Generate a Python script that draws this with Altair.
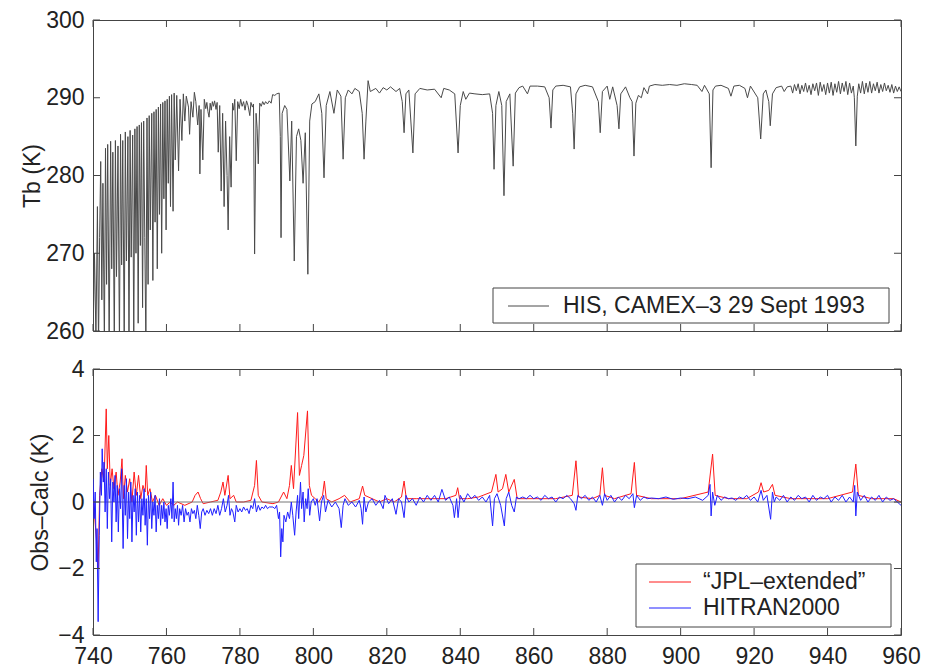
import altair as alt
import pandas as pd

FONT = "Liberation Sans, Arial, Helvetica, sans-serif"
TXT = "#222222"
FRAME = "#444444"

# ---------------- data ----------------
x_ticks = [740, 760, 780, 800, 820, 840, 860, 880, 900, 920, 940, 960]
top_y_ticks = [260, 270, 280, 290, 300]
bottom_y_ticks = [-4, -2, 0, 2, 4]
top_legend = ["HIS, CAMEX\u20133 29 Sept 1993"]
bottom_legend = ["\u201cJPL\u2013extended\u201d", "HITRAN2000"]

# HIS brightness temperature spectrum: (wavenumber cm-1, Tb K)
his_points = [
    (740.0, 259), (740.4, 270), (740.8, 259), (741.2, 276), (741.5, 258), (741.8, 272),
    (742.1, 281.8), (742.4, 264), (742.7, 279), (743.1, 258), (743.4, 283.5), (743.7, 266),
    (744.0, 284), (744.4, 258), (744.8, 284.4), (745.1, 268), (745.4, 283), (745.8, 258),
    (746.1, 284.5), (746.4, 267), (746.8, 283.8), (747.2, 258), (747.5, 285.3), (747.8, 268.5),
    (748.1, 284.5), (748.5, 258), (748.8, 285.6), (749.1, 269), (749.5, 285), (749.8, 258),
    (750.1, 285.8), (750.4, 269.5), (750.8, 285.2), (751.1, 258), (751.4, 286), (751.7, 270),
    (752.0, 286.3), (752.3, 261), (752.6, 286.5), (752.9, 271), (753.2, 286.8), (753.5, 263),
    (753.8, 287), (754.1, 272), (754.4, 258), (754.7, 287.4), (755.0, 266), (755.3, 287.7),
    (755.6, 273), (756.0, 288), (756.3, 266.5), (756.6, 288.2), (756.9, 274), (757.2, 288.5),
    (757.5, 268), (757.8, 288.8), (758.1, 275), (758.4, 289.2), (758.7, 270), (759.0, 289.4),
    (759.3, 277), (759.6, 289.6), (759.9, 273), (760.2, 289.8), (760.5, 279), (760.8, 290.2),
    (761.1, 276), (761.4, 290.4), (761.8, 275.4), (762.1, 290.6), (762.4, 282), (762.8, 290.3),
    (763.3, 280.6), (763.7, 289.8), (764.2, 284.5), (764.6, 290.5),
    (765.0, 287), (765.4, 290.2), (766.0, 288.8), (766.3, 285.3), (766.7, 289.5), (767.2, 287.5),
    (767.6, 290.7), (768.0, 289.5), (768.5, 286.5), (768.9, 289), (769.1, 280.2), (769.4, 288.5),
    (769.9, 282), (770.3, 289.8), (770.7, 288.6), (771.0, 289.4), (771.3, 288.2), (771.6, 287.5),
    (771.9, 289.3), (772.2, 288.4), (772.5, 289.5), (772.8, 288.9), (773.1, 289.6), (773.5, 288.5),
    (773.8, 289.4), (774.1, 283), (774.5, 289), (774.9, 278), (775.3, 288), (775.7, 276),
    (776.1, 287), (776.5, 280), (776.8, 273), (777.2, 285), (777.6, 278.5), (778.0, 289.3),
    (778.3, 288.4), (778.6, 289.8), (779.0, 281.9), (779.4, 289.5), (779.8, 288.6), (780.2, 289.8),
    (780.6, 288.9), (781.0, 289.5), (781.4, 288.4), (781.8, 289.6), (782.2, 289.0), (782.7, 287.7),
    (783.0, 289.4), (783.4, 288.8), (783.7, 289.2), (784.0, 269.9), (784.4, 288), (784.7, 286),
    (785.0, 281.5), (785.4, 289.3), (785.8, 288.9), (786.2, 289.5), (786.6, 289.1), (787.0, 289.5),
    (787.5, 289.2), (788.0, 289.6), (788.5, 289.3), (788.9, 290.4), (789.5, 290.3), (790.0, 290.5),
    (790.7, 290.6),
    (791.0, 285), (791.2, 272), (791.5, 288), (792.2, 289), (792.8, 288.5), (793.6, 279.3),
    (794.1, 287), (794.8, 269), (795.4, 285), (796.0, 286), (796.6, 284.5), (797.2, 279),
    (797.8, 285.5), (798.5, 267.3), (799.0, 287), (799.6, 289.2), (800.5, 289.5),
    (801.5, 290.5), (802.3, 288), (802.9, 279.7), (803.5, 289), (804.5, 290.8), (805.6, 288),
    (806.5, 291), (807.5, 290.2), (808.1, 282.1), (808.7, 290), (809.5, 291), (810.5, 290.5),
    (811.3, 291.2), (812.5, 290.8), (813.3, 288), (813.8, 282.1), (814.3, 287), (814.9, 292.2),
    (815.5, 290.8), (817.0, 291.2), (818.0, 290.6), (819.0, 291.3), (820.0, 291), (821.0, 291.4),
    (822.5, 290.8), (823.5, 291.2), (824.2, 289.5), (824.7, 285.5), (825.2, 290.5), (826.0, 291),
    (827.1, 282.9), (827.7, 290.5), (829.0, 291.2), (831.0, 291), (833.0, 291.1), (834.8, 290),
    (835.5, 291.2), (837.0, 291), (838.5, 290.5), (839.4, 282.9), (840.0, 289), (840.8, 290.8),
    (841.5, 289.8), (842.5, 290.6), (844.0, 290.5), (846.0, 290.4), (848.0, 290.5), (848.8, 288),
    (849.2, 280.8), (849.7, 289), (850.5, 290.8), (851.3, 289), (851.9, 277.4), (852.5, 289.5),
    (853.5, 290.5), (854.4, 281.2), (855.0, 290.6), (856.0, 291.3), (857.0, 291.5), (858.3, 290.5),
    (859.0, 291.5), (861.0, 291.5), (863.0, 291.4), (864.2, 290), (864.7, 286.1), (865.2, 291),
    (866.0, 291.5), (868.0, 291.6), (870.0, 291.4), (870.6, 288), (871.0, 283.4), (871.5, 290.5),
    (872.5, 291.4), (874.0, 291.6), (876.0, 291.4), (877.6, 289.5), (878.1, 285.5), (878.7, 290.8),
    (880.0, 291.5), (880.7, 289.8), (881.5, 291.4), (882.7, 289), (883.2, 286), (883.7, 290.5),
    (885.0, 291.4), (886.2, 290), (886.8, 289.5), (887.3, 282.5), (887.8, 289.3), (888.5, 290.3),
    (889.3, 290), (890.0, 291.3), (891.0, 290.5), (891.5, 291.5), (893.0, 291.7), (895.0, 291.6),
    (897.0, 291.7), (899.0, 291.6), (901.0, 291.8), (903.0, 291.7), (904.5, 291.6), (905.8, 290.8),
    (906.5, 291.6), (907.8, 290.5), (908.3, 281), (908.8, 291), (909.5, 291.5), (911.0, 291.6),
    (913.0, 291.2), (913.7, 290.2), (914.5, 291.5), (916.0, 291.6), (917.5, 291.2), (918.2, 290),
    (919.0, 291.5), (921.0, 290), (921.8, 284.7), (922.5, 290.5), (923.2, 291), (924.0, 289.5),
    (924.4, 286.4), (925.0, 290.5), (926.0, 291.3), (927.5, 291.5), (928.2, 290.8), (929.0, 291.4),
    (930.0, 291.5), (930.5, 290.6), (931.0, 291.7), (931.5, 290.9), (932.0, 291.8), (932.5, 290.5),
    (933.0, 291.6), (933.5, 290.8), (934.0, 291.9), (934.5, 290.7), (935.0, 291.6), (935.5, 290.4),
    (936.0, 291.8), (936.5, 290.9), (937.0, 291.9), (937.5, 290.3), (938.0, 292.0), (938.5, 290.8),
    (939.0, 291.7), (939.5, 290.4), (940.0, 291.9), (940.5, 290.6), (941.0, 292.0), (941.5, 290.3),
    (942.0, 291.8), (942.5, 290.7), (943.0, 292.1), (943.5, 290.5), (944.0, 291.9), (944.5, 290.8),
    (945.0, 292.1), (945.5, 290.4), (946.0, 291.9), (946.5, 290.6), (947.0, 291.5), (947.3, 290.0),
    (947.7, 283.8), (948.1, 290.2), (948.5, 291.8), (949.0, 290.6), (949.5, 292.1), (950.0, 290.5),
    (950.5, 291.9), (951.0, 290.7), (951.5, 292.1), (952.0, 290.6), (952.5, 291.8), (953.0, 290.9),
    (953.5, 292.0), (954.0, 290.6), (954.5, 291.7), (955.0, 290.8), (955.5, 291.9), (956.0, 290.9),
    (956.5, 291.6), (957.0, 290.7), (957.5, 291.7), (958.0, 290.6), (958.5, 291.5), (959.0, 290.8),
    (959.5, 291.4), (960.0, 290.8),
]

# Obs-Calc residuals, "JPL-extended" (red)
jpl_points = [
    (740.0, 0.3), (740.5, -0.5), (741.0, -1.2), (741.4, -2.0), (741.8, 0.2), (742.4, 1.0),
    (743.0, 0.6), (743.6, 2.8), (743.9, 1.0), (744.3, 2.0), (744.7, 0.5), (745.2, 1.0),
    (745.7, 0.4), (746.3, 0.9), (746.8, 0.2), (747.4, 0.6), (747.9, 1.3), (748.3, 0.1),
    (748.8, 0.8), (749.4, 0.3), (750.0, 0.7), (750.6, 0.0), (751.2, 0.9), (751.8, 0.2),
    (752.4, 0.8), (753.0, 0.1), (753.6, 0.5), (754.2, 0.3), (754.5, 1.1), (754.9, 0.2),
    (755.5, 0.4), (756.2, 0.0), (757.0, 0.2), (758.0, -0.1), (759.0, 0.1), (760.0, -0.1),
    (761.0, 0.0), (762.0, -0.1), (763.0, 0.0), (765.0, -0.1), (767.0, 0.0), (767.8, 0.2),
    (768.6, 0.3), (769.3, 0.1), (770.0, -0.05), (772.0, 0.0), (774.0, 0.05), (774.8, 0.3),
    (775.4, 0.6), (775.9, 0.2), (776.8, 0.8), (777.3, 0.1), (778.3, 0.2), (779.0, 0.0),
    (781.0, 0.0), (783.0, 0.05), (784.0, 0.5), (784.5, 1.25), (785.0, 0.2), (786.0, 0.0),
    (789.0, -0.05), (790.5, 0.0), (791.9, 0.3), (792.8, 0.1), (793.5, 0.5), (794.0, 1.1),
    (794.6, 0.4), (795.7, 2.69), (796.2, 0.8), (796.8, 1.1), (797.4, 1.4), (798.4, 2.74),
    (798.9, 0.5), (799.5, 0.2), (800.5, 0.1), (801.5, 0.0), (802.5, 0.2), (803.0, 0.63),
    (803.5, 0.1), (805.0, 0.0), (807.0, 0.1), (808.5, 0.2), (810.0, 0.0), (812.5, 0.1),
    (813.4, 0.48), (814.0, 0.2), (816.0, 0.1), (818.0, 0.0), (820.0, 0.1), (822.0, 0.0),
    (824.0, 0.15), (824.7, 0.63), (825.3, 0.1), (828.0, 0.1), (832.0, 0.1), (836.0, 0.1),
    (838.8, 0.2), (839.3, 0.43), (839.8, 0.1), (842.0, 0.1), (845.0, 0.15), (848.5, 0.3),
    (849.7, 0.83), (850.3, 0.3), (851.5, 0.4), (852.4, 0.83), (853.2, 0.3), (854.7, 0.68),
    (855.5, 0.1), (858.0, 0.1), (862.0, 0.1), (866.0, 0.1), (870.5, 0.2), (871.5, 1.24),
    (872.2, 0.15), (876.0, 0.1), (878.0, 0.2), (878.7, 1.03), (879.3, 0.2), (882.0, 0.1),
    (886.5, 0.25), (887.4, 1.19), (888.0, 0.2), (892.0, 0.1), (900.0, 0.1), (907.5, 0.3),
    (908.7, 1.44), (909.4, 0.2), (913.0, 0.1), (918.0, 0.1), (921.2, 0.3), (921.9, 0.58),
    (922.6, 0.3), (924.0, 0.35), (925.0, 0.53), (925.7, 0.2), (930.0, 0.1), (940.0, 0.1),
    (946.8, 0.3), (947.7, 1.14), (948.4, 0.2), (952.0, 0.1), (958.0, 0.1), (960.0, 0.0),
]

# Obs-Calc residuals, HITRAN2000 (blue)
hitran_points = [
    (740.0, 0.7), (740.3, -0.5), (740.6, 0.3), (740.9, -1.8), (741.1, -0.8), (741.4, -3.6),
    (741.7, -1.0), (742.0, 0.9), (742.3, 0.2), (742.5, 1.6), (742.8, 0.6), (743.0, 1.2),
    (743.3, -0.3), (743.6, 1.0), (743.9, -0.8), (744.2, 0.9), (744.5, 0.1), (744.8, 0.7),
    (745.1, -1.2), (745.4, 0.6), (745.7, 0.0), (746.0, 0.8), (746.3, -0.6), (746.6, 0.5),
    (746.9, -0.9), (747.2, 0.4), (747.5, -0.2), (747.8, 1.0), (748.2, -1.4), (748.5, 0.5),
    (748.8, -0.4), (749.1, 0.7), (749.4, -1.1), (749.7, 0.3), (750.0, -0.5), (750.3, 0.6),
    (750.6, -1.2), (750.9, 0.2), (751.2, -0.3), (751.5, 0.4), (751.8, -1.0), (752.1, 0.3),
    (752.4, -0.6), (752.7, 0.2), (753.0, -0.9), (753.3, 0.1), (753.6, -0.4), (753.9, 0.4),
    (754.2, -0.7), (754.5, 0.1), (754.8, -1.3), (755.1, 0.2), (755.4, -0.5), (755.7, 0.3),
    (756.0, -0.8), (756.3, 0.0), (756.6, -0.4), (756.9, 0.2), (757.2, -0.9), (757.5, -0.1),
    (757.8, -0.5), (758.1, 0.1), (758.4, -0.7), (758.7, -0.1), (759.0, -0.5), (759.3, 0.0),
    (759.6, -0.6), (759.9, -0.2), (760.2, -0.8), (760.5, -0.1), (760.8, -0.4), (761.2, 0.1),
    (761.5, -0.5), (761.8, 0.6), (762.1, -0.6), (762.4, -0.2), (762.7, -0.5), (763.0, -0.1),
    (763.3, -0.7), (763.6, -0.2), (764.0, -0.4), (764.4, -0.1), (764.8, -0.6), (765.2, -0.2),
    (765.6, -0.4), (766.0, -0.3), (766.4, -0.6), (766.8, -0.2), (767.2, -0.35), (767.6, -0.25),
    (768.0, -0.5), (768.4, -0.1), (768.8, -0.4), (769.2, -0.8), (769.6, -0.3), (770.0, -0.2),
    (770.5, -0.4), (771.0, -0.25), (771.5, -0.35), (772.0, -0.2), (772.5, -0.4), (773.0, -0.2),
    (773.5, -0.35), (774.0, -0.1), (774.5, -0.4), (775.0, -0.2), (775.5, 0.1), (776.0, -0.3),
    (776.5, -0.1), (776.9, 0.2), (777.3, -0.4), (777.7, -0.2), (778.1, -0.3), (778.6, -0.6),
    (779.0, -0.1), (779.5, -0.3), (780.0, -0.2), (780.5, -0.3), (781.0, -0.15), (781.5, -0.25),
    (782.0, -0.2), (782.5, -0.35), (783.0, -0.1), (783.5, -0.2), (784.0, 0.1), (784.5, -0.3),
    (785.0, -0.1), (785.5, -0.25), (786.0, -0.15), (786.5, -0.2), (787.0, -0.1), (787.5, -0.2),
    (788.0, -0.15), (789.0, -0.15), (789.5, -0.2), (790.0, -0.1), (790.5, -0.5), (790.8, -0.3),
    (791.1, -1.65), (791.4, -0.8), (791.7, -1.2), (792.0, -0.4), (792.5, -0.6), (793.0, -0.3),
    (793.5, -0.5), (794.0, 0.0), (794.4, -0.4), (794.9, -1.0), (795.3, -0.3), (795.7, 0.2),
    (796.0, -0.5), (796.5, 0.6), (796.8, -0.2), (797.2, 0.3), (797.5, -0.6), (797.9, 0.1),
    (798.3, -0.2), (798.6, 0.4), (799.0, -0.4), (799.4, 0.0), (800.0, 0.1), (800.5, -0.1),
    (801.0, 0.1), (801.7, -0.57), (802.2, 0.0), (802.8, 0.2), (803.3, -0.3), (804.0, 0.05),
    (805.0, -0.15), (806.0, 0.0), (807.0, -0.2), (807.6, -0.77), (808.1, -0.1), (808.6, 0.1),
    (809.5, -0.1), (810.5, 0.0), (811.5, -0.15), (812.5, 0.05), (813.0, -0.2), (813.4, -0.67),
    (813.8, 0.15), (814.3, -0.3), (815.0, 0.0), (816.0, 0.1), (817.0, -0.1), (818.0, 0.05),
    (819.0, -0.2), (819.5, 0.2), (820.5, -0.05), (821.5, 0.1), (822.5, -0.37), (823.2, 0.1),
    (824.0, 0.0), (824.7, -0.47), (825.2, 0.2), (826.0, 0.0), (827.0, 0.1), (828.0, -0.1),
    (829.0, 0.15), (830.0, 0.0), (831.0, 0.2), (832.0, 0.05), (833.0, 0.2), (834.0, 0.0),
    (835.0, 0.38), (836.0, 0.05), (837.0, 0.15), (838.0, -0.1), (838.4, -0.47), (839.0, 0.1),
    (839.4, -0.47), (840.0, 0.2), (841.0, 0.0), (842.0, 0.25), (843.0, 0.1), (844.0, 0.2),
    (845.0, 0.05), (846.0, 0.15), (847.0, 0.0), (848.0, 0.2), (848.8, -0.72), (849.3, 0.1),
    (850.0, 0.25), (851.0, -0.1), (852.0, -0.72), (852.5, 0.1), (853.2, 0.3), (854.0, -0.1),
    (854.7, -0.3), (855.3, 0.15), (856.0, 0.1), (857.0, 0.15), (858.0, 0.1), (859.0, 0.2),
    (860.0, 0.1), (861.0, 0.15), (862.0, 0.05), (863.0, 0.2), (864.0, 0.1), (865.0, 0.15),
    (866.0, 0.0), (867.0, 0.15), (868.0, 0.1), (869.0, 0.2), (870.0, 0.1), (871.0, -0.05),
    (871.5, -0.25), (872.0, 0.2), (873.0, 0.1), (874.0, 0.2), (875.0, 0.05), (876.0, 0.15),
    (877.0, 0.0), (878.0, 0.2), (878.7, -0.1), (879.3, 0.25), (880.0, 0.05), (881.0, 0.2),
    (882.0, 0.0), (883.0, 0.15), (884.0, 0.05), (885.0, 0.2), (886.0, 0.1), (887.0, 0.25),
    (887.4, -0.17), (888.0, 0.2), (889.0, 0.05), (890.0, 0.15), (891.0, 0.1), (892.0, 0.12),
    (894.0, 0.1), (896.0, 0.15), (898.0, 0.08), (900.0, 0.12), (902.0, 0.1), (904.0, 0.15),
    (906.0, 0.05), (907.5, 0.2), (908.0, 0.53), (908.3, -0.42), (908.7, 0.3), (909.3, -0.1),
    (910.0, 0.2), (911.0, 0.05), (912.0, 0.15), (913.0, 0.1), (914.0, 0.12), (915.0, 0.05),
    (916.0, 0.15), (917.0, 0.1), (918.0, 0.2), (919.0, 0.05), (920.0, 0.15), (921.0, 0.0),
    (921.9, 0.35), (922.5, 0.05), (923.5, 0.2), (924.5, -0.52), (925.0, 0.3), (925.5, 0.0),
    (926.0, 0.15), (927.0, 0.05), (928.0, 0.2), (929.0, 0.0), (930.0, 0.15), (931.0, 0.05),
    (932.0, 0.2), (933.0, 0.1), (934.0, 0.15), (935.0, 0.0), (936.0, 0.2), (937.0, 0.05),
    (938.0, 0.15), (939.0, 0.1), (940.0, 0.2), (941.0, 0.0), (942.0, 0.15), (943.0, 0.05),
    (944.0, 0.2), (945.0, 0.0), (946.0, 0.15), (947.0, 0.0), (947.4, 0.5), (947.7, -0.42),
    (948.1, 0.3), (949.0, 0.05), (950.0, 0.2), (951.0, 0.0), (952.0, 0.15), (953.0, 0.05),
    (954.0, 0.2), (955.0, 0.0), (956.0, 0.15), (957.0, 0.05), (958.0, 0.1), (959.0, 0.0),
    (960.0, -0.1),
]

# ---------------- build ----------------
W = 808
H_TOP = 311
H_BOT = 266
TICK = 7

his_df = pd.DataFrame(his_points, columns=["wn", "tb"])
jpl_df = pd.DataFrame(jpl_points, columns=["wn", "v"])
hit_df = pd.DataFrame(hitran_points, columns=["wn", "v"])
xt_df = pd.DataFrame({"wn": x_ticks})
yt_top_df = pd.DataFrame({"tb": top_y_ticks})
yt_bot_df = pd.DataFrame({"v": bottom_y_ticks})

xscale = alt.Scale(domain=[740, 960], nice=False, zero=False)
yscale_top = alt.Scale(domain=[260, 300], nice=False, zero=False)
yscale_bot = alt.Scale(domain=[-4, 4], nice=False, zero=False)

axis_common = dict(tickSize=0, domain=False, grid=False, labelFlush=False,
                   labelOverlap=False, labelFont=FONT, labelFontSize=23,
                   labelColor=TXT, titleFont=FONT, titleFontSize=23,
                   titleFontWeight="normal", titleColor=TXT)


def tick_layers(ydf, yfield, h):
    return [
        alt.Chart(xt_df).mark_rule(color=FRAME, strokeWidth=1).encode(
            x=alt.X("wn:Q"), y=alt.value(h), y2=alt.value(h - TICK)),
        alt.Chart(xt_df).mark_rule(color=FRAME, strokeWidth=1).encode(
            x=alt.X("wn:Q"), y=alt.value(0), y2=alt.value(TICK)),
        alt.Chart(ydf).mark_rule(color=FRAME, strokeWidth=1).encode(
            y=alt.Y(f"{yfield}:Q"), x=alt.value(0), x2=alt.value(TICK)),
        alt.Chart(ydf).mark_rule(color=FRAME, strokeWidth=1).encode(
            y=alt.Y(f"{yfield}:Q"), x=alt.value(W - TICK), x2=alt.value(W)),
    ]


# top panel
his_line = alt.Chart(his_df).mark_line(color="#4a4a4a", strokeWidth=1, clip=True).encode(
    x=alt.X("wn:Q", scale=xscale,
            axis=alt.Axis(labels=False, ticks=False, title=None, domain=False, grid=False)),
    y=alt.Y("tb:Q", scale=yscale_top,
            axis=alt.Axis(values=top_y_ticks, labelPadding=9, title="Tb (K)",
                          titleX=-49, **axis_common)),
)

top_leg_df = pd.DataFrame({"label": top_legend})
top_leg_box = alt.Chart(top_leg_df).mark_rect(fill="white", stroke=FRAME, strokeWidth=1).encode(
    x=alt.value(400), x2=alt.value(796), y=alt.value(268), y2=alt.value(303))
top_leg_line = alt.Chart(top_leg_df).mark_rule(color="#4a4a4a", strokeWidth=1).encode(
    x=alt.value(415), x2=alt.value(456), y=alt.value(286))
top_leg_text = alt.Chart(top_leg_df).mark_text(
    align="left", baseline="middle", font=FONT, fontSize=23, color=TXT).encode(
    x=alt.value(470), y=alt.value(286), text="label:N")

top = alt.layer(his_line, *tick_layers(yt_top_df, "tb", H_TOP),
                top_leg_box, top_leg_line, top_leg_text).properties(width=W, height=H_TOP)

# bottom panel
zero_df = pd.DataFrame({"v": [0]})
jpl_line = alt.Chart(jpl_df).mark_line(color="#ff1a1a", strokeWidth=1, clip=True).encode(
    x=alt.X("wn:Q", scale=xscale,
            axis=alt.Axis(values=x_ticks, labelPadding=10, title=None, **axis_common)),
    y=alt.Y("v:Q", scale=yscale_bot,
            axis=alt.Axis(values=bottom_y_ticks, labelPadding=9, title="Obs\u2013Calc (K)",
                          titleX=-41, **axis_common)))
zero_rule = alt.Chart(zero_df).mark_rule(color="#777777", strokeWidth=1).encode(
    y=alt.Y("v:Q"))
hit_line = alt.Chart(hit_df).mark_line(color="#2020ff", strokeWidth=1, clip=True).encode(
    x=alt.X("wn:Q"), y=alt.Y("v:Q"))

one = pd.DataFrame({"a": [0]})
bot_leg_box = alt.Chart(one).mark_rect(
    fill="white", stroke=FRAME, strokeWidth=1).encode(
    x=alt.value(543), x2=alt.value(798), y=alt.value(195), y2=alt.value(258))
bot_leg_red = alt.Chart(one).mark_rule(color="#ff1a1a", strokeWidth=1).encode(
    x=alt.value(556), x2=alt.value(598), y=alt.value(213))
bot_leg_blue = alt.Chart(one).mark_rule(color="#2020ff", strokeWidth=1).encode(
    x=alt.value(556), x2=alt.value(598), y=alt.value(239))
bot_leg_t1 = alt.Chart(pd.DataFrame({"label": [bottom_legend[0]]})).mark_text(
    align="left", baseline="middle", font=FONT, fontSize=23, color=TXT).encode(
    x=alt.value(610), y=alt.value(213), text="label:N")
bot_leg_t2 = alt.Chart(pd.DataFrame({"label": [bottom_legend[1]]})).mark_text(
    align="left", baseline="middle", font=FONT, fontSize=23, color=TXT).encode(
    x=alt.value(610), y=alt.value(239), text="label:N")

bottom = alt.layer(jpl_line, zero_rule, hit_line, *tick_layers(yt_bot_df, "v", H_BOT),
                   bot_leg_box, bot_leg_red, bot_leg_blue, bot_leg_t1, bot_leg_t2
                   ).properties(width=W, height=H_BOT)

chart = alt.vconcat(top, bottom, spacing=38, bounds="flush").properties(
    padding={"left": 20, "top": 8, "right": 5, "bottom": 5},
    background="white",
).configure_view(stroke=FRAME, strokeWidth=1)

chart.save("out.html", embed_options={"renderer": "svg", "actions": False})
